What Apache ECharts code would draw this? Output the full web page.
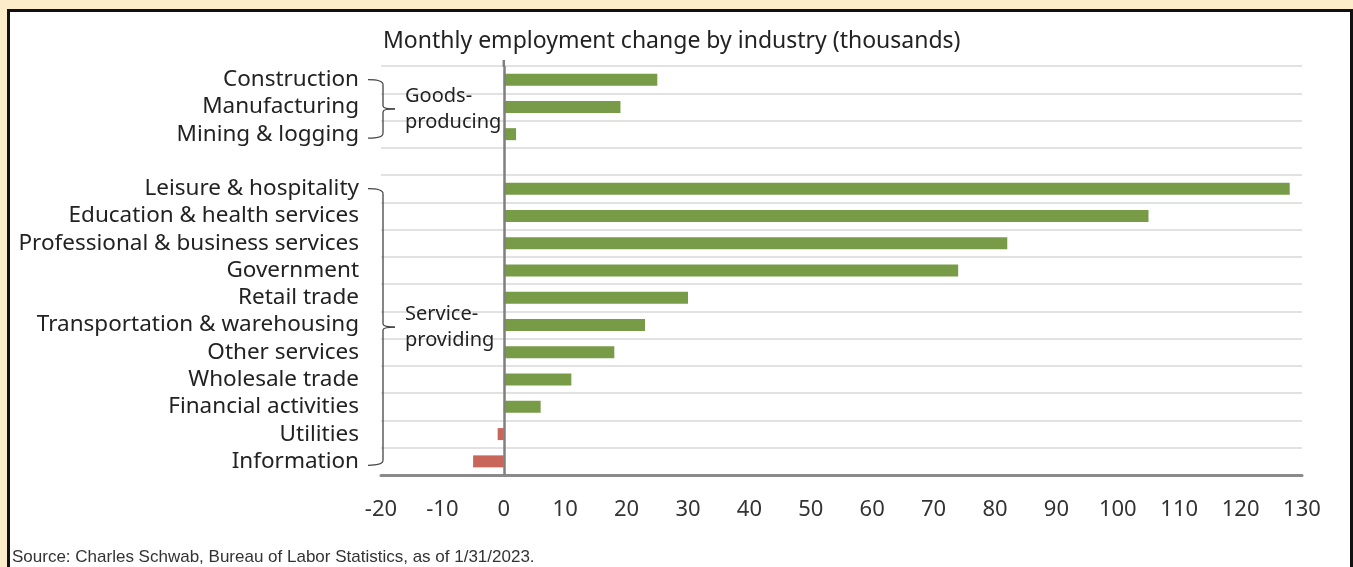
<!DOCTYPE html>
<html>
<head>
<meta charset="utf-8">
<script src="https://cdn.jsdelivr.net/npm/echarts@6/dist/echarts.min.js"></script>
<style>
  html, body { margin: 0; padding: 0; background: #fdecca; }
  #chart { width: 1353px; height: 567px; }
</style>
</head>
<body>
<div id="chart"></div>
<script>
// Industries, top to bottom; the blank entry separates the two sector groups
const industries = [
  'Construction', 'Manufacturing', 'Mining & logging', '',
  'Leisure & hospitality', 'Education & health services',
  'Professional & business services', 'Government', 'Retail trade',
  'Transportation & warehousing', 'Other services', 'Wholesale trade',
  'Financial activities', 'Utilities', 'Information'
];
// Monthly change in payrolls, thousands
const jobChange = [25, 19, 2, null, 128, 105, 82, 74, 30, 23, 18, 11, 6, -1, -5];
// Value axis range and step
const xMin = -20, xMax = 130, xStep = 10;
// Sector groups shown with braces
const sectorGroups = [
  { label: 'Goods-\nproducing', first: 'Construction', last: 'Mining & logging' },
  { label: 'Service-\nproviding', first: 'Leisure & hospitality', last: 'Information' }
];

const GREEN = '#789b47';
const RED = '#c9665a';
const FONT = '"Noto Sans", "Open Sans", sans-serif';

const chart = echarts.init(document.getElementById('chart'), null, { renderer: 'canvas' });

const baseGraphics = [
  {
    type: 'rect', z: -10, silent: true,
    shape: { x: 8.5, y: 10.5, width: 1343, height: 640 },
    style: { fill: '#ffffff', stroke: '#111111', lineWidth: 3 }
  },
  {
    type: 'text', left: 12, top: 549, silent: true,
    style: {
      text: 'Source: Charles Schwab, Bureau of Labor Statistics, as of 1/31/2023.',
      fontFamily: '"Liberation Sans", Arial, sans-serif', fontSize: 17, fill: '#333'
    }
  }
];

const option = {
  backgroundColor: '#fdecca',
  animation: false,
  title: {
    text: 'Monthly employment change by industry (thousands)',
    left: 383, top: 30, padding: 0,
    textStyle: { fontFamily: FONT, fontSize: 23, fontWeight: 'normal', color: '#222' }
  },
  grid: { left: 381, right: 51, top: 66, bottom: 92, containLabel: false, outerBoundsMode: 'none' },
  xAxis: {
    type: 'value', min: xMin, max: xMax, interval: xStep,
    axisLine: { show: true, lineStyle: { color: '#8a8a8a', width: 3 } },
    axisTick: { show: false },
    splitLine: { show: false },
    axisLabel: { fontFamily: FONT, fontSize: 22, color: '#333', margin: 24 }
  },
  yAxis: {
    type: 'category', inverse: true, data: industries,
    axisLine: { show: false, onZero: false },
    axisTick: { show: false, interval: 0 },
    splitLine: { show: true, interval: 0, lineStyle: { color: '#d9d9d9', width: 1.5 } },
    axisLabel: { interval: 0, fontFamily: FONT, fontSize: 22.5, color: '#222', margin: 22 }
  },
  series: [{
    type: 'bar',
    barWidth: 12,
    data: jobChange.map(v => ({ value: v, itemStyle: { color: v < 0 ? RED : GREEN } })),
    markLine: {
      silent: true, symbol: 'none', label: { show: false },
      lineStyle: { color: '#7f7f7f', width: 2.5, type: 'solid' },
      data: [{ xAxis: 0 }]
    }
  }],
  graphic: baseGraphics
};

chart.setOption(option);

// Braces and group labels placed from the category axis positions
const extraGraphics = [];
const braceStyle = { fill: 'none', stroke: '#444', lineWidth: 1.3 };
sectorGroups.forEach(g => {
  const top = chart.convertToPixel({ yAxisIndex: 0 }, g.first);
  const bottom = chart.convertToPixel({ yAxisIndex: 0 }, g.last) + 4;
  const mid = (top + bottom) / 2;
  const xl = 368, xv = 383, xp = 395;
  const parts = [
    { type: 'bezierCurve', shape: { x1: xl, y1: top, cpx1: xv, cpy1: top, x2: xv, y2: top + 5 } },
    { type: 'line', shape: { x1: xv, y1: top + 5, x2: xv, y2: mid - 3 } },
    { type: 'bezierCurve', shape: { x1: xv, y1: mid - 3, cpx1: xv, cpy1: mid, x2: xp, y2: mid } },
    { type: 'bezierCurve', shape: { x1: xp, y1: mid, cpx1: xv, cpy1: mid, x2: xv, y2: mid + 3 } },
    { type: 'line', shape: { x1: xv, y1: mid + 3, x2: xv, y2: bottom - 5 } },
    { type: 'bezierCurve', shape: { x1: xv, y1: bottom - 5, cpx1: xv, cpy1: bottom, x2: xl, y2: bottom } }
  ];
  parts.forEach(p => extraGraphics.push(Object.assign(p, { silent: true, z: 5, style: braceStyle })));
  extraGraphics.push({
    type: 'text', silent: true, z: 5, x: 405, y: mid,
    style: {
      text: g.label, fontFamily: FONT, fontSize: 20, lineHeight: 26,
      fill: '#222', verticalAlign: 'middle', align: 'left'
    }
  });
});

// Zero line continues slightly above the plot area
const zeroX = chart.convertToPixel({ xAxisIndex: 0 }, 0);
extraGraphics.push({
  type: 'line', silent: true, z: 5,
  shape: { x1: zeroX, y1: 60, x2: zeroX, y2: 67 },
  style: { stroke: '#7f7f7f', lineWidth: 2.5 }
});

chart.setOption({ graphic: baseGraphics.concat(extraGraphics) });
</script>
</body>
</html>
